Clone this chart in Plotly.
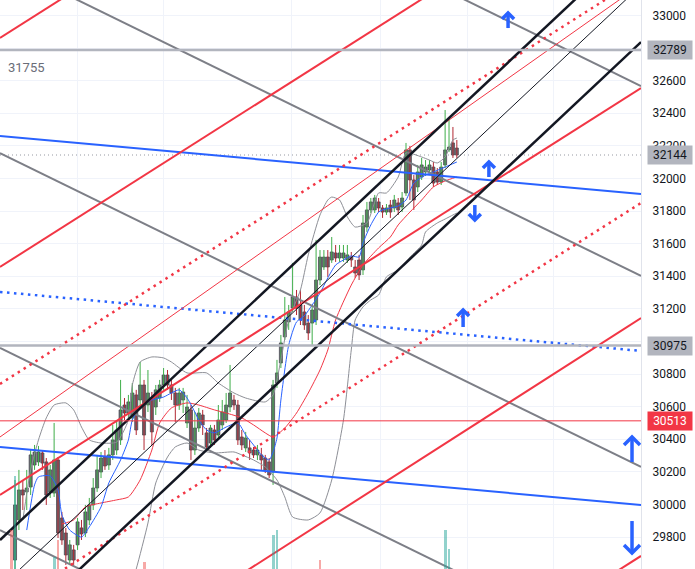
import plotly.graph_objects as go

# ---------------- candles (bar index, prices) ----------------
opens = [29659, 29905, 30089, 30077, 30107, 30242, 30261, 30316, 30261, 30077,
         30070, 30273, 29917, 29825, 29659, 29721, 29752, 29856, 29825, 29905,
         29997, 30101, 30199, 30291, 30242, 30304, 30334, 30396, 30610, 30561,
         30531, 30672, 30641, 30733, 30610, 30653, 30598, 30653, 30733, 30794,
         30733, 30684, 30610, 30641, 30500, 30580, 30334, 30469, 30549, 30439,
         30377, 30457, 30426, 30488, 30518, 30598, 30641, 30610, 30414, 30347,
         30347, 30334, 30304, 30304, 30285, 30261, 30199, 30745, 30868, 31028,
         31120, 31205, 31273, 31224, 31181, 31113, 31113, 31132, 31377, 31457,
         31518, 31500, 31543, 31512, 31512, 31500, 31518, 31457, 31500, 31439,
         31702, 31807, 31807, 31856, 31819, 31794, 31837, 31819, 31850, 31825,
         31911, 32175, 31991, 31948, 32009, 32040, 32052, 32070, 32040, 31978,
         32083, 32175, 32218, 32187]
closes = [29997, 30089, 30058, 30101, 30304, 30322, 30322, 30254, 30058, 30212,
          30273, 29825, 29782, 29690, 29752, 29659, 29893, 29819, 29954, 29997,
          30101, 30212, 30285, 30236, 30304, 30396, 30457, 30580, 30561, 30629,
          30684, 30457, 30733, 30426, 30684, 30445, 30703, 30733, 30794, 30733,
          30684, 30610, 30684, 30690, 30598, 30334, 30469, 30561, 30488, 30353,
          30469, 30396, 30518, 30567, 30610, 30684, 30610, 30396, 30365, 30408,
          30316, 30304, 30334, 30273, 30212, 30181, 30733, 30807, 30991, 31132,
          31181, 31273, 31205, 31132, 31101, 31052, 31193, 31377, 31518, 31518,
          31457, 31549, 31512, 31543, 31543, 31531, 31500, 31420, 31408, 31727,
          31807, 31856, 31880, 31819, 31794, 31819, 31794, 31868, 31807, 31880,
          32175, 31991, 31868, 32040, 32083, 32070, 32083, 31972, 31978, 32070,
          32175, 32193, 32144, 32144]
highs = [30150, 30212, 30150, 30212, 30334, 30365, 30359, 30334, 30285, 30242,
         30500, 30291, 29954, 29856, 29782, 29752, 29917, 29905, 29997, 30040,
         30162, 30304, 30322, 30334, 30347, 30488, 30518, 30764, 30653, 30672,
         30745, 30703, 30874, 30764, 30825, 30690, 30733, 30764, 30837, 30825,
         30764, 30715, 30715, 30715, 30672, 30610, 30567, 30592, 30580, 30469,
         30488, 30488, 30610, 30641, 30684, 30856, 30672, 30641, 30457, 30445,
         30396, 30353, 30365, 30347, 30304, 30285, 30764, 30887, 31040, 31273,
         31224, 31482, 31316, 31316, 31224, 31162, 31224, 31623, 31561, 31561,
         31561, 31641, 31592, 31592, 31592, 31592, 31549, 31500, 31531, 31776,
         31856, 31880, 31899, 31880, 31837, 31843, 31868, 31899, 31880, 31917,
         32218, 32199, 32021, 32083, 32126, 32113, 32113, 32101, 32064, 32101,
         32420, 32371, 32316, 32236]
lows = [29586, 29843, 29966, 29966, 30058, 30212, 30236, 30212, 29997, 30040,
        30046, 29794, 29752, 29629, 29629, 29629, 29721, 29782, 29800, 29874,
        29966, 30077, 30162, 30212, 30212, 30273, 30304, 30365, 30518, 30531,
        30506, 30426, 30610, 30334, 30567, 30365, 30549, 30629, 30703, 30703,
        30641, 30506, 30580, 30561, 30469, 30273, 30304, 30445, 30426, 30334,
        30347, 30365, 30396, 30457, 30500, 30567, 30580, 30365, 30334, 30322,
        30273, 30285, 30273, 30212, 30193, 30162, 30120, 30715, 30837, 31009,
        31071, 31181, 31162, 31101, 31071, 31009, 30978, 31101, 31346, 31439,
        31396, 31482, 31488, 31488, 31488, 31482, 31457, 31390, 31377, 31408,
        31672, 31788, 31788, 31794, 31758, 31776, 31758, 31794, 31776, 31794,
        31893, 31868, 31807, 31917, 31991, 32015, 32034, 31948, 31960, 31960,
        32064, 32162, 32126, 32126]

# ---------------- indicators (sparse readings: bar index -> price) ----------------
fast_ma_idx = [3, 5, 6, 9, 11, 12, 14, 17, 19, 22, 24, 27, 29, 30, 32, 35, 38, 40, 42, 44,
               46, 47, 49, 51, 54, 57, 59, 61, 63, 65, 66, 67, 68, 70, 72, 74, 76, 78, 80, 82,
               84, 86, 88, 89, 91, 93, 94, 96, 98, 100, 102, 105, 107, 110, 113]
fast_ma_val = [29843, 30120, 30169, 30175, 30089, 29935, 29843, 29800, 29862, 29985,
               30132, 30273, 30396, 30518, 30598, 30641, 30659, 30684, 30703, 30653,
               30567, 30518, 30457, 30439, 30475, 30500, 30426, 30365, 30304, 30273,
               30322, 30408, 30641, 30978, 31120, 31157, 31224, 31297, 31390, 31469,
               31500, 31525, 31518, 31604, 31715, 31794, 31807, 31819, 31831, 31868,
               31972, 32021, 32040, 32070, 32101]
basis_idx = [12, 15, 18, 22, 26, 29, 32, 35, 37, 40, 44, 47, 51, 54, 58, 61, 64, 66, 69, 72,
             75, 78, 80, 82, 86, 89, 93, 96, 98, 101, 104, 107, 110, 113]
basis_val = [29880, 29905, 29985, 30009, 30028, 30046, 30150, 30334, 30500, 30592,
             30623, 30610, 30580, 30561, 30531, 30488, 30439, 30414, 30469, 30561,
             30684, 30825, 30948, 31132, 31346, 31469, 31574, 31641, 31715, 31794,
             31868, 31948, 31985, 32009]
upper_idx = [2, 4, 6, 8, 10, 13, 15, 17, 19, 22, 26, 29, 30, 32, 35, 38, 40, 44, 49, 52,
             56, 59, 64, 66, 68, 70, 73, 75, 78, 80, 81, 83, 85, 87, 90, 93, 95, 98, 100, 104,
             106, 108, 110, 112, 113]
upper_val = [29905, 30212, 30396, 30531, 30610, 30623, 30580, 30475, 30396, 30377,
             30383, 30518, 30733, 30874, 30905, 30899, 30874, 30807, 30807, 30745,
             30684, 30653, 30629, 30672, 30887, 31132, 31316, 31531, 31776, 31868,
             31886, 31868, 31764, 31702, 31727, 31911, 31911, 32009, 32156, 32132,
             32113, 32095, 32132, 32236, 32248]
lower_idx = [29, 31, 34, 36, 39, 41, 44, 47, 51, 56, 58, 61, 64, 67, 69, 71, 75, 78, 81, 84,
             86, 87, 89, 91, 93, 95, 98, 101, 104, 105, 108, 110, 112, 113]
lower_val = [29450, 29604, 29886, 30132, 30291, 30353, 30377, 30334, 30316, 30322,
             30304, 30273, 30230, 30150, 30046, 29923, 29905, 29948, 30150, 30518,
             30948, 31132, 31212, 31255, 31285, 31396, 31439, 31518, 31592, 31672,
             31727, 31751, 31776, 31788]

# ---------------- volume (only the bars tall enough to be seen) ----------------
vol_idx = [-1, 0, 10, 11, 33, 66, 67, 78, 110, 111]
vol_val = [69, 163, 21, 51, 12, 60, 69, 16, 69, 35]
vol_up = [False, True, True, False, False, True, True, False, True, True]

# ---------------- drawings: prices at the left and right ends ----------------
X_LEFT, X_RIGHT = -3.84, 160.1
black_thick = [(29782, 33478), (29144, 32837)]
black_thin = [(29488, 33184)]
red_thick = [(32862, 35359), (31457, 33954), (30058, 32555), (28623, 31144), (27187, 29684)]
red_dotted = [(30739, 33236), (29353, 31850)]
red_thin = [(30414, 33190)]
gray_thick = [(34494, 32567), (33328, 31402), (32156, 30230), (30960, 29034), (29843, 27917)]
blue_solid = [(32261, 31905), (30353, 29997)]
blue_dotted = [(31304, 30942)]
hlines_gray = [32789, 30975]
hline_red = 30513
last_price = 32144
left_value = "31755"
left_value_at = 32678
# arrows: (bar index, tip price, direction, length px, head px)
arrows = [(126.1, 33015, 1, 15, 6), (121.2, 32101, 1, 15, 6), (117.6, 31745, -1, 15, 6),
          (114.6, 31193, 1, 17, 6), (157.8, 30414, 1, 25, 8), (157.8, 29702, -1, 32, 8)]

grid_x = [15.86, 38.1, 70.8, 93.35, 115.6, 137.6]
y_ticks = list(range(29600, 33200, 200))
hidden_ticks = [32800, 31000]
Y_MIN, Y_MAX = 29604, 33095

fig = go.Figure()

# volume
fig.add_trace(go.Bar(x=vol_idx, y=vol_val, yaxis="y2", width=0.75,
                     marker=dict(color=["rgba(38,166,154,0.5)" if u else "rgba(239,83,80,0.5)" for u in vol_up],
                                 line=dict(width=0)), hoverinfo="skip"))

# last price dotted line
fig.add_trace(go.Scatter(x=[X_LEFT, X_RIGHT], y=[last_price, last_price], mode="lines",
                         line=dict(color="#9598a1", width=1, dash="1px,3px"), hoverinfo="skip"))

# wicks
def wick_xy(up):
    xs, ys = [], []
    for i, (o, h, l, c) in enumerate(zip(opens, highs, lows, closes)):
        if (c >= o) == up:
            xs += [i, i, None]
            ys += [min(l, o, c), max(h, o, c), None]
    return xs, ys

for up, col in [(True, "#3fae49"), (False, "#b22833")]:
    xs, ys = wick_xy(up)
    fig.add_trace(go.Scatter(x=xs, y=ys, mode="lines", line=dict(color=col, width=1), hoverinfo="skip"))

# bodies
fig.add_trace(go.Bar(x=list(range(len(opens))),
                     y=[max(abs(c - o), 4) for o, c in zip(opens, closes)],
                     base=[min(o, c) for o, c in zip(opens, closes)], width=0.78,
                     marker=dict(color="#66686f", line=dict(color="#404249", width=0.7)),
                     hoverinfo="skip"))

# indicators
for xs, ys, col in [(upper_idx, upper_val, "#8d8f96"), (lower_idx, lower_val, "#8d8f96"),
                    (basis_idx, basis_val, "#f23645"), (fast_ma_idx, fast_ma_val, "#2962ff")]:
    fig.add_trace(go.Scatter(x=xs, y=ys, mode="lines", line=dict(color=col, width=1, shape="spline", smoothing=0.6),
                             hoverinfo="skip"))

# trend lines
def add_lines(pairs, color, width, dash="solid"):
    xs, ys = [], []
    for a, b in pairs:
        xs += [X_LEFT, X_RIGHT, None]
        ys += [a, b, None]
    fig.add_trace(go.Scatter(x=xs, y=ys, mode="lines", line=dict(color=color, width=width, dash=dash),
                             hoverinfo="skip"))

add_lines(gray_thick, "#7d7f87", 2)
add_lines(blue_solid, "#2962ff", 2)
add_lines(blue_dotted, "#2962ff", 2.5, "2.5px,4.5px")
add_lines(red_thick, "#f23645", 2)
add_lines(red_dotted, "#f23645", 2.5, "2.5px,4.5px")
add_lines(red_thin, "#f23645", 1)
add_lines(black_thin, "#131722", 1)
add_lines(black_thick, "#131722", 2.5)

# horizontal lines
xs, ys = [], []
for p in hlines_gray:
    xs += [X_LEFT, X_RIGHT, None]
    ys += [p, p, None]
fig.add_trace(go.Scatter(x=xs, y=ys, mode="lines", line=dict(color="#b2b5be", width=2.5), hoverinfo="skip"))
fig.add_trace(go.Scatter(x=[X_LEFT, X_RIGHT], y=[hline_red, hline_red], mode="lines",
                         line=dict(color="#f23645", width=1), hoverinfo="skip"))

# arrows
SX = (X_RIGHT - X_LEFT) / 641.0
SY = (Y_MAX - Y_MIN) / 569.0
axs, ays = [], []
for i, p, d, ln, hd in arrows:
    axs += [i, i, None, i - hd * SX, i, i + hd * SX, None]
    ays += [p - d * ln * SY, p, None, p - d * hd * SY, p, p - d * hd * SY, None]
fig.add_trace(go.Scatter(x=axs, y=ays, mode="lines", line=dict(color="#2962ff", width=3.5),
                         hoverinfo="skip", cliponaxis=False))

# price labels on the axis
labels = [(32789, "#b2b5be", "#131722"), (last_price, "#b2b5be", "#131722"),
          (30975, "#b2b5be", "#131722"), (hline_red, "#f23645", "#ffffff")]
for p, bg, fg in labels:
    fig.add_annotation(x=1, xref="paper", y=p, yref="y", xanchor="left", xshift=6,
                       text=str(p), showarrow=False, bgcolor=bg, borderpad=2, width=40,
                       font=dict(family="Roboto", size=12, color=fg))

fig.add_annotation(x=0, xref="paper", y=left_value_at, yref="y", xanchor="left", xshift=6,
                   text=left_value, showarrow=False, font=dict(family="Roboto", size=13, color="#6a6d78"))

fig.update_layout(
    width=695, height=569, margin=dict(l=0, r=54, t=0, b=0),
    paper_bgcolor="white", plot_bgcolor="white", showlegend=False,
    barmode="overlay", bargap=0, hovermode=False,
    xaxis=dict(range=[X_LEFT, X_RIGHT], tickvals=grid_x, showticklabels=False, ticks="",
               showgrid=True, gridcolor="#f0f3fa", zeroline=False, showline=False),
    yaxis=dict(side="right", range=[Y_MIN, Y_MAX], tickvals=y_ticks,
               ticktext=["" if t in hidden_ticks else str(t) for t in y_ticks], ticks="",
               showgrid=True, gridcolor="#f0f3fa", zeroline=False, showline=True, linecolor="#e0e3eb",
               tickfont=dict(family="Roboto", size=12, color="#131722"), ticklabelstandoff=8),
    yaxis2=dict(overlaying="y", range=[0, 1000], visible=False),
)

fig.write_html("out.html", config={"displayModeBar": False, "staticPlot": True},
               post_script="document.body.style.margin='0';document.body.style.overflow='hidden';")
